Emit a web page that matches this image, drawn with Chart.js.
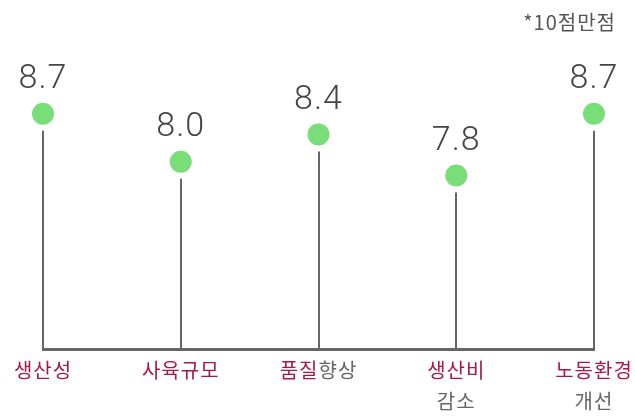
<!DOCTYPE html>
<html lang="ko">
<head>
  <meta charset="UTF-8">
  <title>평가 점수</title>
  <script src="https://cdn.jsdelivr.net/npm/chart.js"></script>
  <style>
    html, body { margin: 0; padding: 0; background: #fff; }
    #wrap { width: 635px; height: 416px; }
  </style>
</head>
<body>
  <div id="wrap"><canvas id="scoreChart" width="635" height="416"></canvas></div>

  <script>
    // 항목 (강조 부분 + 나머지)
    const categories = ['생산성', '사육규모', '품질향상', '생산비 감소', '노동환경 개선'];
    const keyWords = ['생산성', '사육규모', '품질', '생산비', '노동환경'];
    const scores = [8.7, 8.0, 8.4, 7.8, 8.7];
    const note = '*10점만점';

    const GREEN = '#79dd78';
    const CRIMSON = '#a8174b';
    const GRAY = '#666666';

    const lollipop = {
      id: 'lollipop',
      beforeDatasetsDraw(chart) {
        const ctx = chart.ctx;
        const bottom = chart.chartArea.bottom;
        ctx.save();
        ctx.strokeStyle = '#666';
        ctx.lineWidth = 2;
        chart.getDatasetMeta(0).data.forEach(pt => {
          ctx.beginPath();
          ctx.moveTo(Math.round(pt.x), pt.y + 17);
          ctx.lineTo(Math.round(pt.x), bottom);
          ctx.stroke();
        });
        ctx.restore();
      },
      afterDraw(chart) {
        const ctx = chart.ctx;
        const xs = chart.scales.x;
        ctx.save();

        // 값 라벨
        ctx.font = '300 34px Roboto';
        ctx.letterSpacing = '1px';
        ctx.fillStyle = '#444';
        ctx.textAlign = 'center';
        ctx.textBaseline = 'middle';
        chart.getDatasetMeta(0).data.forEach((pt, i) => {
          ctx.fillText(scores[i].toFixed(1), pt.x, pt.y - 34);
        });

        // 항목 라벨
        ctx.font = '20px "Noto Sans CJK KR"';
        ctx.letterSpacing = '1px';
        ctx.textAlign = 'left';
        categories.forEach((label, i) => {
          const cx = xs.getPixelForValue(i);
          const main = keyWords[i];
          const rest = label.slice(main.length);
          if (rest.startsWith(' ')) {
            const w1 = ctx.measureText(main).width;
            ctx.fillStyle = CRIMSON;
            ctx.fillText(main, cx - w1 / 2, 370);
            const sub = rest.trim();
            const w2 = ctx.measureText(sub).width;
            ctx.fillStyle = GRAY;
            ctx.fillText(sub, cx - w2 / 2, 401);
          } else {
            const w = ctx.measureText(label).width;
            const x0 = cx - w / 2;
            ctx.fillStyle = CRIMSON;
            ctx.fillText(main, x0, 370);
            if (rest) {
              ctx.fillStyle = GRAY;
              ctx.fillText(rest, x0 + ctx.measureText(main).width, 370);
            }
          }
        });

        // 주석
        ctx.letterSpacing = '1px';
        ctx.font = '20px "Noto Sans CJK KR"';
        ctx.fillStyle = '#555';
        ctx.textAlign = 'right';
        ctx.fillText(note, 616, 22);
        ctx.restore();
      }
    };

    const ctx = document.getElementById('scoreChart').getContext('2d');
    const chart = new Chart(ctx, {
      type: 'line',
      data: {
        labels: categories,
        datasets: [{
          data: scores,
          showLine: false,
          pointRadius: 11,
          pointHoverRadius: 11,
          pointBorderWidth: 0,
          pointBackgroundColor: GREEN,
          clip: false
        }]
      },
      options: {
        responsive: false,
        animation: false,
        events: [],
        layout: { autoPadding: false, padding: { left: 43, right: 41, top: 0, bottom: 67 } },
        plugins: {
          legend: { display: false },
          tooltip: { enabled: false }
        },
        scales: {
          x: {
            offset: false,
            grid: { display: false, drawTicks: false },
            ticks: { display: false },
            border: { display: true, color: '#666', width: 3 }
          },
          y: {
            display: false,
            min: 5.27,
            max: 10.36
          }
        }
      },
      plugins: [lollipop]
    });
  </script>
</body>
</html>
